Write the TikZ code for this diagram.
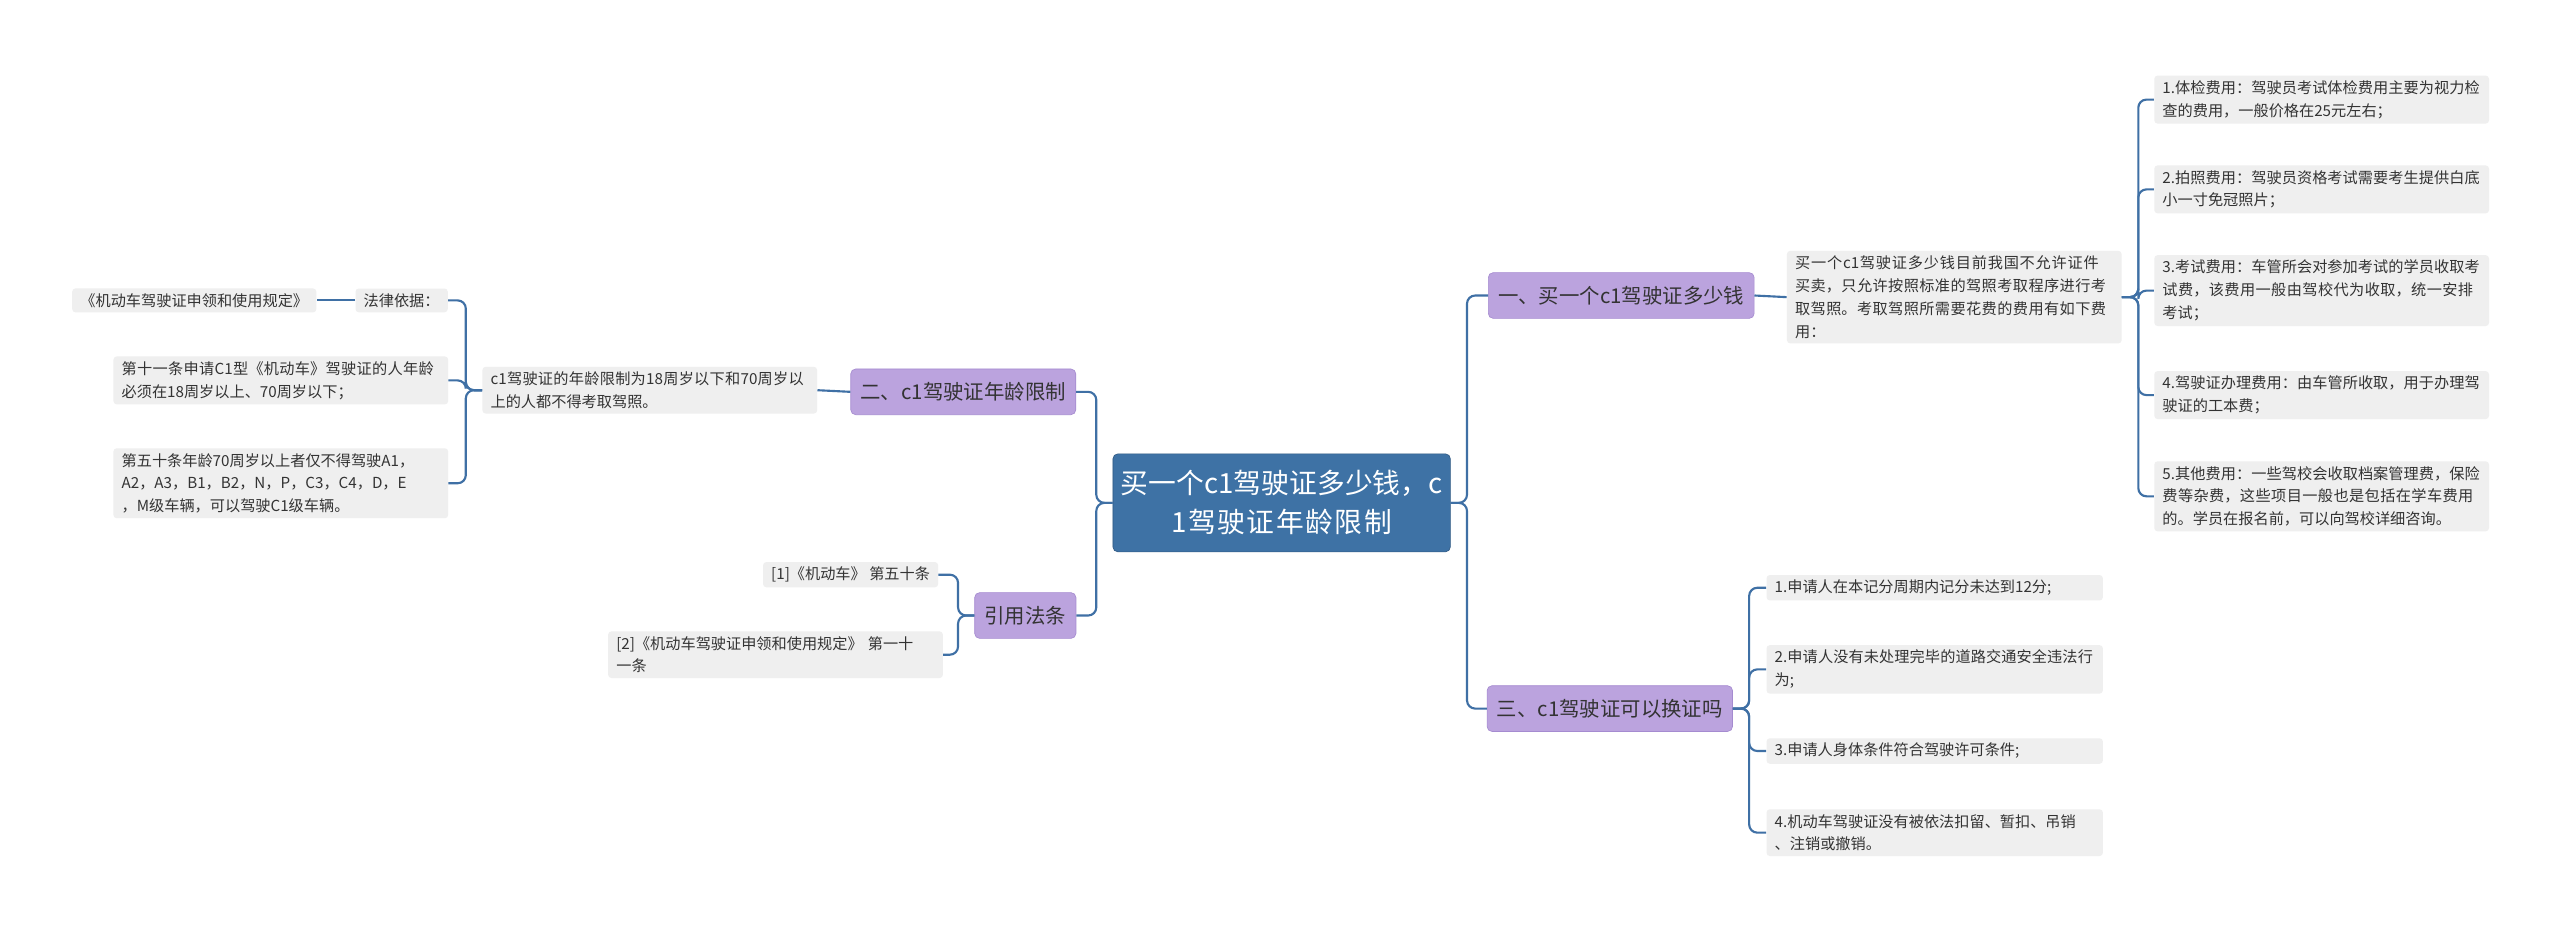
\documentclass[tikz,border=0pt]{standalone}
\usepackage{fontspec}
\setmainfont{Noto Sans CJK SC}
\XeTeXlinebreaklocale "zh"
\XeTeXlinebreakskip=0pt plus 1pt
\begin{document}
\begin{tikzpicture}[x=1pt,y=-1pt,
 leaf/.style={fill=leafc,rounded corners=2pt,inner xsep=5pt,inner ysep=3pt,align=left,text=txt,font=\fontsize{9.3}{14}\selectfont},
 br/.style={fill=brc,draw=brd,rounded corners=3pt,inner xsep=6pt,minimum height=28pt,text=txt,font=\fontsize{12.5}{15}\selectfont},
 ln/.style={draw=lnc,line width=1.3pt,rounded corners=5pt}]
\definecolor{leafc}{HTML}{EFEFEF}
\definecolor{brc}{HTML}{BBA3DE}
\definecolor{brd}{HTML}{A58BD0}
\definecolor{txt}{HTML}{333333}
\definecolor{lnc}{HTML}{3F70A5}
\definecolor{cen}{HTML}{3E72A5}
\useasboundingbox (0,0) rectangle (1568,569);
\fill[white] (0,0) rectangle (1568,569);
\node[fill=cen,draw=cen!80!black,rounded corners=3pt,text=white,align=center,text width=200pt,minimum height=60pt,font=\fontsize{17}{24}\selectfont] (c) at (785,308) {买一个c1驾驶证多少钱，c\\1驾驶证年龄限制};
% right branch 1
\node[br] (b1) at (993,181) {一、买一个c1驾驶证多少钱};
\node[leaf,text width=195pt] (l1) at (1197,182) {买一个c1驾驶证多少钱目前我国不允许证件买卖，只允许按照标准的驾照考取程序进行考取驾照。考取驾照所需要花费的费用有如下费用：};
\node[leaf,text width=195pt] (a1) at (1422,61) {1.体检费用：驾驶员考试体检费用主要为视力检查的费用，一般价格在25元左右；};
\node[leaf,text width=195pt] (a2) at (1422,116) {2.拍照费用：驾驶员资格考试需要考生提供白底小一寸免冠照片；};
\node[leaf,text width=195pt] (a3) at (1422,178) {3.考试费用：车管所会对参加考试的学员收取考试费，该费用一般由驾校代为收取，统一安排考试；};
\node[leaf,text width=195pt] (a4) at (1422,242) {4.驾驶证办理费用：由车管所收取，用于办理驾驶证的工本费；};
\node[leaf,text width=195pt] (a5) at (1422,304) {5.其他费用：一些驾校会收取档案管理费，保险费等杂费，这些项目一般也是包括在学车费用的。学员在报名前，可以向驾校详细咨询。};
% right branch 3
\node[br] (b3) at (986,434) {三、c1驾驶证可以换证吗};
\node[leaf,text width=196pt] (d1) at (1185,360) {1.申请人在本记分周期内记分未达到12分;};
\node[leaf,text width=196pt] (d2) at (1185,410) {2.申请人没有未处理完毕的道路交通安全违法行为;};
\node[leaf,text width=196pt] (d3) at (1185,460) {3.申请人身体条件符合驾驶许可条件;};
\node[leaf,text width=196pt] (d4) at (1185,510) {4.机动车驾驶证没有被依法扣留、暂扣、吊销\\、注销或撤销。};
% left branch 2
\node[br] (b2) at (590,240) {二、c1驾驶证年龄限制};
\node[leaf,text width=195pt] (l2) at (398,239) {c1驾驶证的年龄限制为18周岁以下和70周岁以上的人都不得考取驾照。};
\node[leaf] (e1) at (246,184) {法律依据：};
\node[leaf] (e0) at (119,184) {《机动车驾驶证申领和使用规定》};
\node[leaf,text width=195pt] (e2) at (172,233) {第十一条申请C1型《机动车》驾驶证的人年龄必须在18周岁以上、70周岁以下；};
\node[leaf,text width=195pt] (e3) at (172,296) {第五十条年龄70周岁以上者仅不得驾驶A1，\\A2，A3，B1，B2，N，P，C3，C4，D，E\\，M级车辆，可以驾驶C1级车辆。};
% left branch 4
\node[br] (b4) at (628,377) {引用法条};
\node[leaf] (f1) at (521,352) {[1]《机动车》 第五十条};
\node[leaf,text width=195pt] (f2) at (475,401) {[2]《机动车驾驶证申领和使用规定》 第一十\\一条};
% connectors
\foreach \n in {b1,b3} \draw[ln] (c.east) -- ++(10,0) |- (\n.west);
\foreach \n in {b2,b4} \draw[ln] (c.west) -- ++(-10,0) |- (\n.east);
\draw[ln] (b1.east) -- (l1.west);
\foreach \n in {a1,a2,a3,a4,a5} \draw[ln] (l1.east) -- ++(10,0) |- (\n.west);
\foreach \n in {d1,d2,d3,d4} \draw[ln] (b3.east) -- ++(10,0) |- (\n.west);
\draw[ln] (b2.west) -- (l2.east);
\foreach \n in {e1,e2,e3} \draw[ln] (l2.west) -- ++(-10,0) |- (\n.east);
\draw[ln] (e1.west) -- (e0.east);
\foreach \n in {f1,f2} \draw[ln] (b4.west) -- ++(-10,0) |- (\n.east);
\end{tikzpicture}
\end{document}
